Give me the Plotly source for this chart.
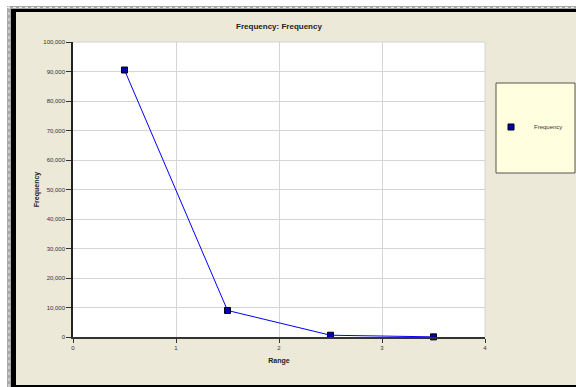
import plotly.graph_objects as go

ranges = [0.5, 1.5, 2.5, 3.5]
frequency = [90500, 9000, 600, 50]
x_ticks = [0, 1, 2, 3, 4]
y_ticks = list(range(0, 100001, 10000))
y_tick_labels = [f"{v:,}" for v in y_ticks]

W, H = 576, 387
L, R, T, B = 73, 485, 42, 337

def px(x):
    return (x - L) / (R - L)

def py(y):
    return (B - y) / (B - T)

BEIGE = "#ECE9D8"
FONT = "Liberation Sans, Arial, sans-serif"

fig = go.Figure()
fig.add_trace(go.Scatter(
    x=ranges, y=frequency, mode="lines+markers", showlegend=False,
    line=dict(color="#0000FF", width=1),
    marker=dict(symbol="square", size=6, color="#0000B0", line=dict(color="#000000", width=1)),
    cliponaxis=False,
))
fig.add_trace(go.Scatter(
    x=[None], y=[None], mode="markers", name="Frequency",
    marker=dict(symbol="square", size=6, color="#0000B0", line=dict(color="#000000", width=1)),
))

shapes = []
shapes.append(dict(type="rect", xref="paper", yref="paper", x0=px(0), x1=px(7), y0=py(0), y1=py(H), fillcolor="white", line_width=0))
shapes.append(dict(type="rect", xref="paper", yref="paper", x0=px(0), x1=px(W), y0=py(0), y1=py(6), fillcolor="white", line_width=0))
shapes.append(dict(type="rect", xref="paper", yref="paper", x0=px(7), x1=px(11), y0=py(6), y1=py(H), fillcolor="#A8A8A8", line_width=0))
shapes.append(dict(type="rect", xref="paper", yref="paper", x0=px(7), x1=px(W), y0=py(6), y1=py(9), fillcolor="#A8A8A8", line_width=0))
shapes.append(dict(type="line", xref="paper", yref="paper", x0=px(9), x1=px(9), y0=py(6), y1=py(H), line=dict(color="#F0F0F0", width=1, dash="dot")))
shapes.append(dict(type="line", xref="paper", yref="paper", x0=px(7), x1=px(W), y0=py(7.5), y1=py(7.5), line=dict(color="#F0F0F0", width=1, dash="dot")))
shapes.append(dict(type="rect", xref="paper", yref="paper", x0=px(11), x1=px(16), y0=py(9), y1=py(H), fillcolor="black", line_width=0))
shapes.append(dict(type="rect", xref="paper", yref="paper", x0=px(11), x1=px(W), y0=py(9), y1=py(12), fillcolor="black", line_width=0))
shapes.append(dict(type="rect", xref="paper", yref="paper", x0=px(11), x1=px(W), y0=py(385), y1=py(H), fillcolor="black", line_width=0))
shapes.append(dict(type="rect", xref="paper", yref="paper", x0=px(496), x1=px(575), y0=py(83), y1=py(173), fillcolor="#FFFFE0", line=dict(color="#555555", width=1)))
shapes.append(dict(type="line", xref="paper", yref="paper", x0=1, x1=1, y0=0, y1=1, line=dict(color="#D4D4D4", width=1)))
shapes.append(dict(type="line", xref="paper", yref="paper", x0=0, x1=1, y0=1, y1=1, line=dict(color="#D4D4D4", width=1)))

fig.update_layout(
    width=W, height=H,
    margin=dict(l=L, r=W - R, t=T, b=H - B, pad=0, autoexpand=False),
    paper_bgcolor=BEIGE, plot_bgcolor="white",
    font=dict(family=FONT, size=6, color="#333333"),
    title=dict(text="<b>Frequency: Frequency</b>", x=px(279), xanchor="center", xref="paper",
               y=1 - 26 / H, yanchor="middle", font=dict(size=8, color="#222222")),
    shapes=shapes,
    showlegend=True,
    legend=dict(x=px(488), y=py(127), xanchor="left", yanchor="middle", bgcolor="rgba(0,0,0,0)",
                borderwidth=0, font=dict(size=6, color="#333333"), itemwidth=36),
    xaxis=dict(range=[0, 4], tickvals=x_ticks, ticktext=[str(v) for v in x_ticks],
               tickfont=dict(color="#333333", size=6),
               showgrid=True, gridcolor="#D4D4D4", gridwidth=1,
               showline=True, linecolor="#333333", linewidth=1.5,
               ticks="outside", ticklen=4, tickcolor="#333333",
               zeroline=False, mirror=False,
               title=dict(text="<b>Range</b>", font=dict(size=7, color="#222222"), standoff=8)),
    yaxis=dict(range=[0, 100000], tickvals=y_ticks, ticktext=y_tick_labels,
               tickfont=dict(color="#333333", size=6),
               showgrid=True, gridcolor="#D4D4D4", gridwidth=1,
               showline=True, linecolor="#222222", linewidth=1.5,
               ticks="outside", ticklen=5, tickcolor="#333333",
               zeroline=False,
               title=dict(text="<b>Frequency</b>", font=dict(size=7, color="#222222"), standoff=3)),
)

fig.write_html("out.html", config={"displayModeBar": False},
               post_script="document.body.style.margin='0';document.body.style.overflow='hidden';")
